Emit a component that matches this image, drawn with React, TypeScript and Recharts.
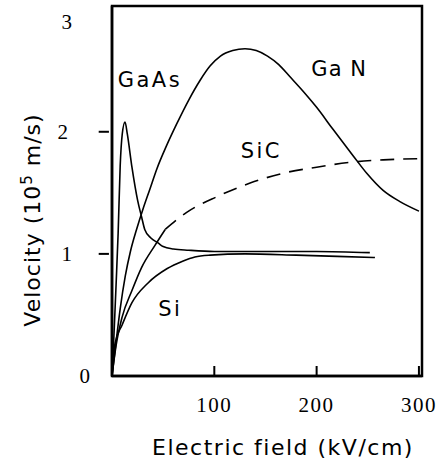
import React from "react";
import { LineChart, Line, XAxis, YAxis, ReferenceDot, ReferenceArea, ReferenceLine, Label } from "recharts";

// Electric field (kV/cm) vs drift velocity (10^5 m/s)
const gaAsField = [0, 2, 4, 6, 8, 10, 12.7, 15, 19.5, 25, 29, 32, 38, 45, 50, 60, 75, 100, 150, 200, 252];
const gaAsVel = [0, 0.35, 0.75, 1.17, 1.72, 1.98, 2.08, 1.98, 1.71, 1.44, 1.3, 1.2, 1.13, 1.09, 1.06, 1.04, 1.03, 1.02, 1.02, 1.02, 1.01];

const gaNField = [0, 4, 8, 13, 18, 24, 30, 37, 44, 53, 63, 75, 86, 96, 106, 118, 130, 141, 152, 163, 174, 187, 200, 216, 236, 249, 265, 281, 300];
const gaNVel = [0, 0.28, 0.55, 0.82, 1.02, 1.2, 1.36, 1.53, 1.7, 1.88, 2.06, 2.26, 2.42, 2.54, 2.62, 2.665, 2.68, 2.665, 2.62, 2.55, 2.45, 2.33, 2.2, 2.02, 1.8, 1.66, 1.52, 1.43, 1.35];

const siField = [0, 3, 10, 19.5, 35, 54, 69, 81, 96, 130, 180, 220, 257];
const siVel = [0, 0.27, 0.42, 0.6, 0.76, 0.88, 0.94, 0.975, 0.99, 1.0, 0.99, 0.98, 0.97];

const siCLowField = [0, 4, 9.8, 19.5, 29, 42, 52];
const siCLowVel = [0, 0.25, 0.48, 0.7, 0.89, 1.07, 1.2];
const siCHighField = [52, 73, 103, 135, 167, 200, 233, 265, 300];
const siCHighVel = [1.2, 1.34, 1.47, 1.58, 1.66, 1.71, 1.75, 1.77, 1.78];

const xTicks = [100, 200, 300];
const yTicks = [0, 1, 2, 3];
const yTickMarks = [1, 2];

const labels = [
  { name: "GaAs", x: 37, y: 2.43 },
  { name: "Ga N", x: 222, y: 2.52 },
  { name: "SiC", x: 146, y: 1.85 },
  { name: "Si", x: 57, y: 0.56 },
];

const toPoints = (xs: number[], ys: number[]) => xs.map((x, i) => ({ x, y: ys[i] }));

const gaAs = toPoints(gaAsField, gaAsVel);
const gaN = toPoints(gaNField, gaNVel);
const si = toPoints(siField, siVel);
const siCLow = toPoints(siCLowField, siCLowVel);
const siCHigh = toPoints(siCHighField, siCHighVel);

const tickFont = "'Liberation Serif', serif";
const textFont = "'DejaVu Sans', sans-serif";

const XTick = (props: any) => {
  const { x, y, payload } = props;
  return (
    <text x={x} y={y + 36} textAnchor="middle" fontFamily={tickFont} fontSize={21} letterSpacing={1.5} fill="#000" stroke="none">
      {payload.value}
    </text>
  );
};

const YTick = (props: any) => {
  const { x, y, payload } = props;
  const v = payload.value;
  const dx = v === 0 ? -22 : v === 2 ? -44 : -40;
  const dy = v === 3 ? 12 : 0;
  return (
    <text x={x + dx} y={y + dy + 7} textAnchor="end" fontFamily={tickFont} fontSize={21} fill="#000" stroke="none">
      {v}
    </text>
  );
};

export default function App() {
  const common = { type: "monotone" as const, dataKey: "y", stroke: "#000", strokeWidth: 1.6, dot: false, isAnimationActive: false };
  return (
    <div style={{ position: "absolute", left: 0, top: 0, background: "#fff" }}>
      <LineChart width={443} height={463} margin={{ top: 6, right: 21, left: 52, bottom: 37 }}>
        <XAxis
          dataKey="x"
          type="number"
          domain={[0, 303]}
          ticks={xTicks}
          tick={<XTick />}
          tickLine={{ stroke: "#000", strokeWidth: 2 }}
          tickSize={-10}
          tickMargin={10}
          height={50}
          axisLine={{ stroke: "#000", strokeWidth: 2.5 }}
        >
          <Label
            content={(p: any) => {
              const vb = p.viewBox;
              return (
                <text x={vb.x + vb.width / 2 + 16} y={455} textAnchor="middle" fontFamily={textFont} fontSize={22} letterSpacing={1.5} fill="#000">
                  Electric field (kV/cm)
                </text>
              );
            }}
          />
        </XAxis>
        <YAxis
          type="number"
          domain={[0, 3.03]}
          ticks={yTicks}
          tick={<YTick />}
          tickLine={false}
          tickSize={0}
          tickMargin={0}
          width={60}
          axisLine={{ stroke: "#000", strokeWidth: 2.5 }}
        >
          <Label
            content={(p: any) => {
              const vb = p.viewBox;
              const cy = vb.y + vb.height / 2 + 29;
              return (
                <text x={40} y={cy} transform={`rotate(-90 40 ${cy})`} textAnchor="middle" fontFamily={textFont} fontSize={22} letterSpacing={1} fill="#000">
                  Velocity (10<tspan fontSize={15} dy={-8}>5</tspan>
                  <tspan dy={8}> m/s)</tspan>
                </text>
              );
            }}
          />
        </YAxis>

        <ReferenceArea x1={0} x2={303} y1={0} y2={3.03} fill="none" fillOpacity={0} stroke="#000" strokeWidth={2.5} ifOverflow="visible" />
        {yTickMarks.map((t) => (
          <ReferenceLine key={`yt${t}`} segment={[{ x: -13, y: t }, { x: -3, y: t }]} stroke="#000" strokeWidth={2} ifOverflow="visible" />
        ))}

        <Line {...common} data={gaAs} name="GaAs" />
        <Line {...common} data={gaN} name="GaN" />
        <Line {...common} data={si} name="Si" />
        <Line {...common} data={siCLow} name="SiC low" />
        <Line {...common} data={siCHigh} name="SiC" strokeDasharray="14 9" />

        {labels.map((l) => (
          <ReferenceDot
            key={l.name}
            x={l.x}
            y={l.y}
            r={0}
            fill="none"
            stroke="none"
            label={(p: any) => {
              const cx = p.viewBox.x + (p.viewBox.width || 0) / 2;
              const cy = p.viewBox.y + (p.viewBox.height || 0) / 2;
              return (
                <text x={cx} y={cy + 8} textAnchor="middle" fontFamily={textFont} fontSize={21} letterSpacing={l.name === "Ga N" ? 1 : 2.5} fill="#000">
                  {l.name}
                </text>
              );
            }}
          />
        ))}
      </LineChart>
    </div>
  );
}
